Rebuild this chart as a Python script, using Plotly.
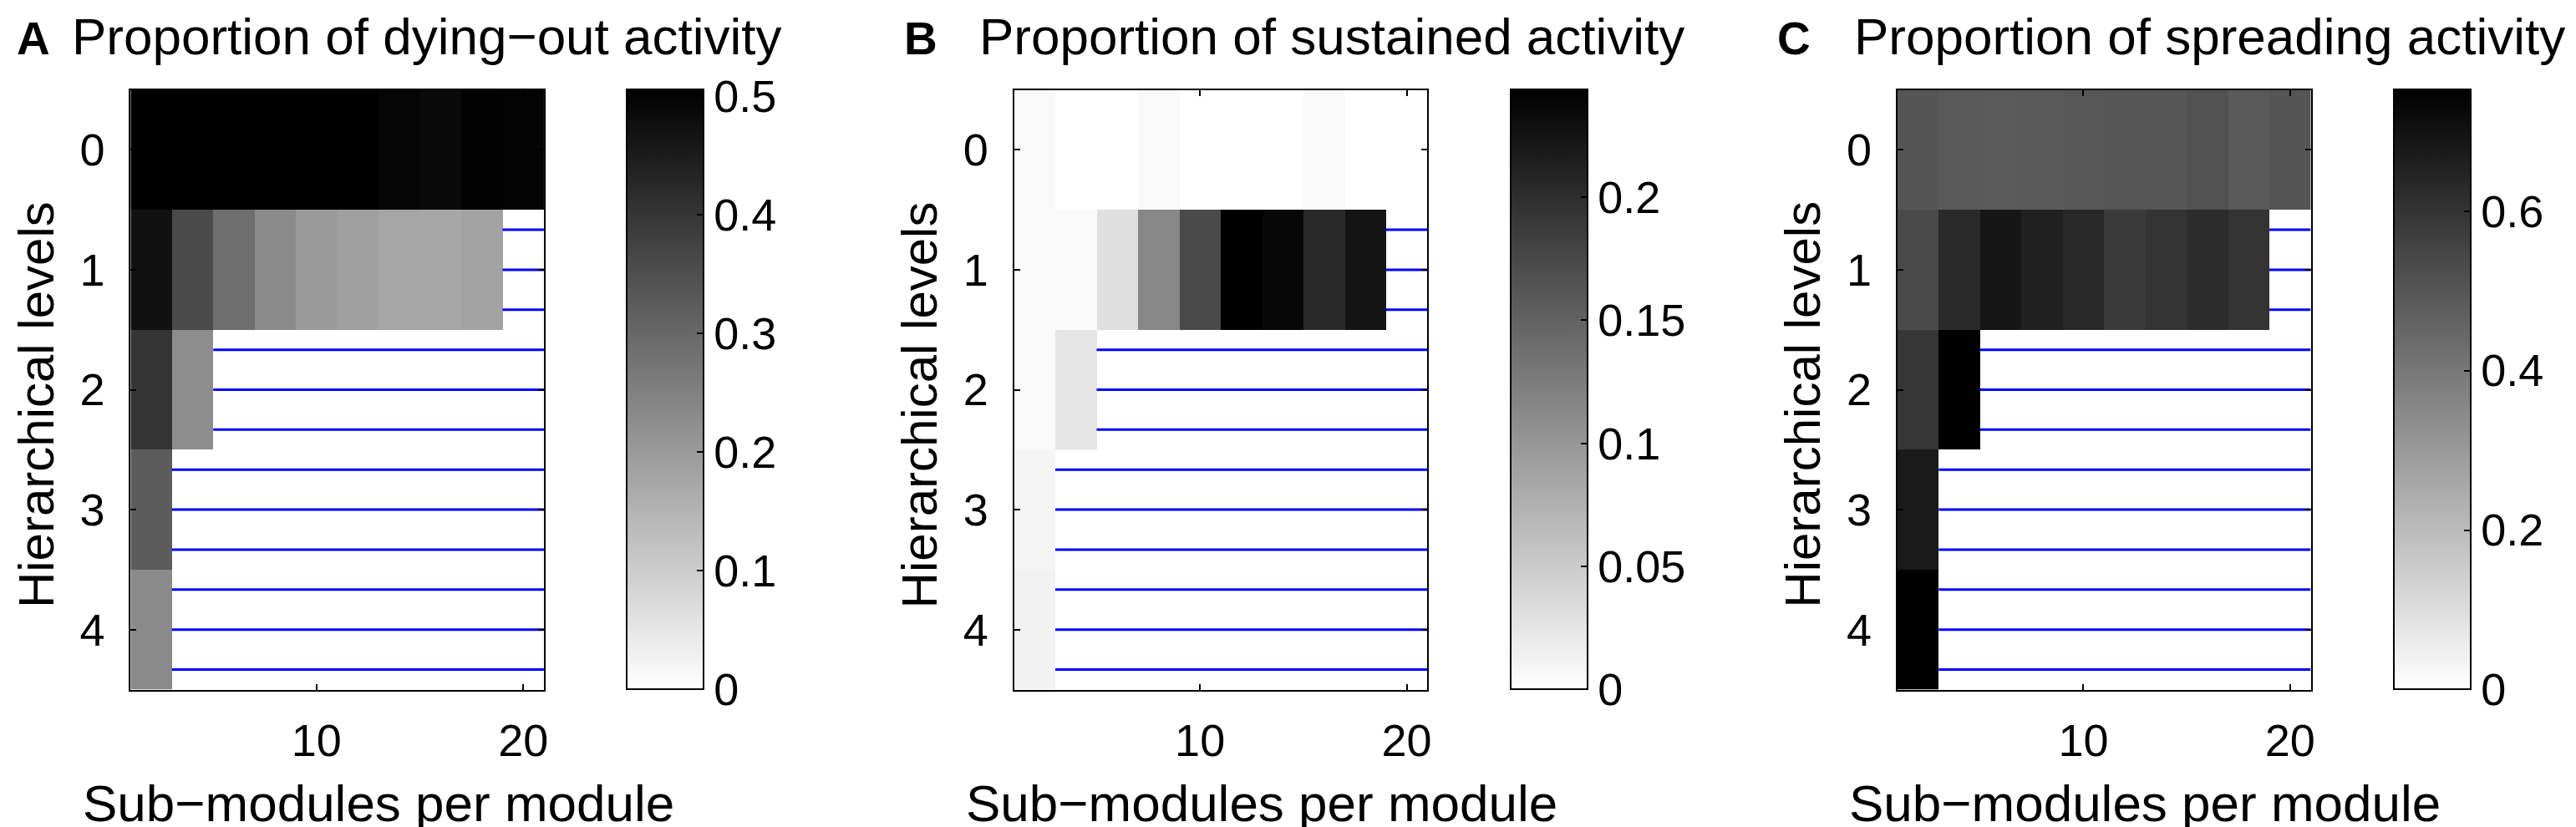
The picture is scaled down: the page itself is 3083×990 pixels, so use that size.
import plotly.graph_objects as go

# ---------------- data ----------------
levels = [0, 1, 2, 3, 4]
modules = [2, 4, 6, 8, 10, 12, 14, 16, 18, 20]
level_labels = ["0", "1", "2", "3", "4"]
x_tick_vals = [10, 20]
x_tick_text = ["10", "20"]

dying_out = [
    [0.505, 0.505, 0.510, 0.505, 0.505, 0.505, 0.496, 0.485, 0.502, 0.498],
    [0.471, 0.358, 0.287, 0.232, 0.198, 0.188, 0.178, 0.176, 0.184, None],
    [0.400, 0.226, None, None, None, None, None, None, None, None],
    [0.323, None, None, None, None, None, None, None, None, None],
    [0.232, None, None, None, None, None, None, None, None, None],
]
sustained = [
    [0.006, 0.0, 0.0, 0.006, 0.0, 0.0, 0.0, 0.006, 0.0, 0.0],
    [0.005, 0.005, 0.031, 0.115, 0.173, 0.2435, 0.236, 0.204, 0.224, None],
    [0.006, 0.025, None, None, None, None, None, None, None, None],
    [0.0095, None, None, None, None, None, None, None, None, None],
    [0.012, None, None, None, None, None, None, None, None, None],
]
spreading = [
    [0.501, 0.490, 0.487, 0.490, 0.495, 0.498, 0.498, 0.513, 0.490, 0.501],
    [0.534, 0.628, 0.687, 0.658, 0.634, 0.581, 0.602, 0.622, 0.602, None],
    [0.593, 0.752, None, None, None, None, None, None, None, None],
    [0.675, None, None, None, None, None, None, None, None, None],
    [0.752, None, None, None, None, None, None, None, None, None],
]

cb_max = [0.505, 0.2435, 0.752]
cb_tick_vals = [
    [0, 0.1, 0.2, 0.3, 0.4, 0.5],
    [0, 0.05, 0.1, 0.15, 0.2],
    [0, 0.2, 0.4, 0.6],
]
cb_tick_text = [
    ["0", "0.1", "0.2", "0.3", "0.4", "0.5"],
    ["0", "0.05", "0.1", "0.15", "0.2"],
    ["0", "0.2", "0.4", "0.6"],
]
panel_letters = ["A", "B", "C"]
titles = [
    "Proportion of dying\u2212out activity",
    "Proportion of sustained activity",
    "Proportion of spreading activity",
]
x_label = "Sub\u2212modules per module"
y_label = "Hierarchical levels"

# ---------------- layout helpers (pixel geometry) ----------------
W, H = 3083, 990
FONT = "Liberation Sans"
ASC, DESC = 0.905, 0.212          # font ascent / descent (em)
ax_left = [148.5, 1207.5, 2266.5]
ax_w = 495.5
ax_top, ax_bot = 99.5, 817.5
cb_off, cb_w = 595.0, 91.5
letter_x = [11.0, 1075.0, 2121.0]
title_x = [76.7, 1164.7, 2214.0]
TITLE_SIZE = 62
LETTER_SIZE = 55
XLABEL_SIZE = 62
YLABEL_SIZE = 60
TICK_SIZE = 54


def fx(p):
    return p / W


def fy(p):
    return 1 - p / H


gray = [[0.0, "#ffffff"], [1.0, "#000000"]]
data_sets = [dying_out, sustained, spreading]

fig = go.Figure()
layout_axes = {}
annotations = []

half = (modules[1] - modules[0]) / 2.0
x_lo, x_hi = modules[0] - half, modules[-1] + half

title_baseline = ASC * TITLE_SIZE          # title box top at 0
letter_top = title_baseline - ASC * LETTER_SIZE

for i, z in enumerate(data_sets):
    sfx = "" if i == 0 else str(i + 1)
    xr, yr = "x" + sfx, "y" + sfx
    left = ax_left[i]
    fig.add_trace(go.Heatmap(
        z=z, x=modules, y=levels, xaxis=xr, yaxis=yr,
        colorscale=gray, zmin=0, zmax=cb_max[i], hoverinfo="skip",
        colorbar=dict(
            x=fx(left + cb_off), xanchor="left", xref="paper",
            y=fy((ax_top + ax_bot) / 2), yanchor="middle", yref="paper",
            len=(ax_bot - ax_top) / H, lenmode="fraction",
            thickness=cb_w, thicknessmode="pixels", xpad=0, ypad=0,
            outlinewidth=2, outlinecolor="black",
            tickmode="array", tickvals=cb_tick_vals[i], ticktext=cb_tick_text[i],
            ticks="inside", ticklen=9, tickwidth=2, tickcolor="black",
            tickfont=dict(family=FONT, size=TICK_SIZE, color="black"),
        ),
    ))
    # blue hatch lines over missing cells
    xs, ys = [], []
    for r, row in enumerate(z):
        miss = [k for k, v in enumerate(row) if v is None]
        if not miss:
            continue
        x0 = modules[miss[0]] - half
        for yy in (levels[r] - 1 / 3, levels[r], levels[r] + 1 / 3):
            xs += [x0, x_hi, None]
            ys += [yy, yy, None]
    fig.add_trace(go.Scatter(x=xs, y=ys, xaxis=xr, yaxis=yr, mode="lines",
                             line=dict(color="#0000ff", width=3),
                             hoverinfo="skip", showlegend=False))

    common = dict(showline=True, linecolor="black", linewidth=2, mirror="ticks",
                  ticks="inside", ticklen=7, tickwidth=2, tickcolor="black",
                  showgrid=False, zeroline=False,
                  tickfont=dict(family=FONT, size=TICK_SIZE, color="black"))
    layout_axes["xaxis" + sfx] = dict(
        domain=[fx(left), fx(left + ax_w)], anchor=yr,
        range=[x_lo, x_hi], tickmode="array", tickvals=x_tick_vals,
        ticktext=x_tick_text, ticklabelstandoff=13, **common)
    layout_axes["yaxis" + sfx] = dict(
        domain=[fy(ax_bot), fy(ax_top)], anchor=xr,
        range=[levels[-1] + 0.5, levels[0] - 0.5], tickmode="array",
        tickvals=levels, ticktext=level_labels, ticklabelstandoff=18, **common)

    annotations.append(dict(text="<b>" + panel_letters[i] + "</b>", x=fx(letter_x[i]),
                            y=fy(letter_top), xref="paper", yref="paper", xanchor="left",
                            yanchor="top", showarrow=False, borderpad=0,
                            font=dict(family=FONT, size=LETTER_SIZE, color="black")))
    annotations.append(dict(text=titles[i], x=fx(title_x[i]), y=1.0,
                            xref="paper", yref="paper", xanchor="left",
                            yanchor="top", showarrow=False, borderpad=0,
                            font=dict(family=FONT, size=TITLE_SIZE, color="black")))
    annotations.append(dict(text=x_label, x=fx(left + 297), y=fy(989),
                            xref="paper", yref="paper", xanchor="center",
                            yanchor="bottom", showarrow=False, borderpad=0,
                            font=dict(family=FONT, size=XLABEL_SIZE, color="black")))
    annotations.append(dict(text=y_label, x=fx(left - 147.5), y=fy(476.6),
                            xref="paper", yref="paper", xanchor="left",
                            yanchor="middle", showarrow=False, textangle=-90,
                            borderpad=0,
                            font=dict(family=FONT, size=YLABEL_SIZE, color="black")))

fig.update_layout(
    width=W, height=H, autosize=False,
    margin=dict(l=0, r=0, t=0, b=0, pad=0),
    paper_bgcolor="white", plot_bgcolor="white",
    showlegend=False, annotations=annotations, **layout_axes,
)

fig.write_html("out.html")
